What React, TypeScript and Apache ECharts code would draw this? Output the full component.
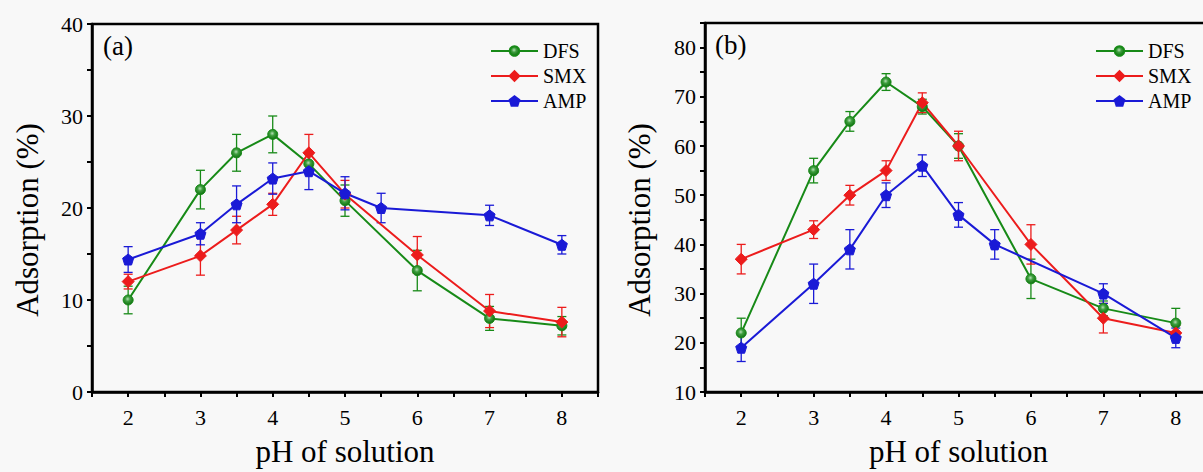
import React, { useEffect, useRef } from "react";
import * as echarts from "echarts";

// pH values sampled for each drug
const phDfsSmx = [2, 3, 3.5, 4, 4.5, 5, 6, 7, 8];
const phAmp = [2, 3, 3.5, 4, 4.5, 5, 5.5, 7, 8];

// Panel (a)
const dfsA = [10, 22, 26, 28, 24.8, 20.8, 13.2, 8, 7.2];
const dfsErrA = [1.5, 2.1, 2, 2, 1, 1.7, 2.2, 1.3, 1];
const smxA = [12, 14.8, 17.6, 20.4, 26, 21.5, 14.9, 8.8, 7.6];
const smxErrA = [0.8, 2.1, 1.5, 1.2, 2, 1.5, 2, 1.8, 1.6];
const ampA = [14.4, 17.2, 20.4, 23.2, 24, 21.6, 20, 19.2, 16];
const ampErrA = [1.4, 1.2, 2, 1.7, 2, 1.8, 1.6, 1.1, 1];

// Panel (b)
const dfsB = [22, 55, 65, 73, 68, 60, 33, 27, 24];
const dfsErrB = [3, 2.5, 2, 1.7, 1.5, 2.5, 4, 1.5, 3];
const smxB = [37, 43, 50, 55, 68.8, 60, 40, 25, 22];
const smxErrB = [3, 1.8, 2, 2, 2, 3, 4, 3, 1.5];
const ampB = [19, 32, 39, 50, 56, 46, 40, 30, 21];
const ampErrB = [2.8, 4, 4, 2.5, 2.2, 2.5, 3, 2, 2];

const names = ["DFS", "SMX", "AMP"];
const yTicksA = { min: 0, max: 40, step: 5 };
const yTicksB = { min: 10, max: 85, step: 5, lastLabel: 80 };

const FONT = "'Liberation Serif', 'Times New Roman', serif";
const GREEN = "#178a17";
const RED = "#ec1c1c";
const BLUE = "#1a1ad6";
const PENTAGON =
  "path://M50,0 L97.6,34.5 L79.4,90.5 L20.6,90.5 L2.4,34.5 Z";

// Shaded ball marker for DFS
const dfsFill = {
  type: "radial",
  x: 0.45,
  y: 0.4,
  r: 0.6,
  colorStops: [
    { offset: 0, color: "#b5dfb5" },
    { offset: 0.4, color: "#3d9e3d" },
    { offset: 1, color: "#107010" },
  ],
};

function pairs(xs: number[], ys: number[]) {
  return xs.map((x, i) => [x, ys[i]]);
}
function errs(xs: number[], ys: number[], es: number[]) {
  return xs.map((x, i) => [x, ys[i] - es[i], ys[i] + es[i]]);
}

function lineSeries(
  name: string,
  idx: number,
  xs: number[],
  ys: number[],
  color: string,
  symbol: string,
  size: number,
  fill: any
) {
  return {
    name,
    type: "line",
    xAxisIndex: idx,
    yAxisIndex: idx,
    data: pairs(xs, ys),
    symbol,
    symbolSize: size,
    showAllSymbol: true,
    z: 4,
    lineStyle: { color, width: 2 },
    itemStyle: { color: fill, borderColor: color, borderWidth: 1 },
    emphasis: { disabled: true },
  };
}

function errSeries(
  name: string,
  idx: number,
  xs: number[],
  ys: number[],
  es: number[],
  color: string
) {
  return {
    name: name + " error",
    type: "custom",
    xAxisIndex: idx,
    yAxisIndex: idx,
    data: errs(xs, ys, es),
    encode: { x: 0, y: [1, 2] },
    z: 3,
    silent: true,
    renderItem: (params: any, api: any) => {
      const x = api.value(0);
      const lo = api.coord([x, api.value(1)]);
      const hi = api.coord([x, api.value(2)]);
      const w = 4.5;
      const style = { stroke: color, lineWidth: 1.3, fill: "none" };
      return {
        type: "group",
        children: [
          { type: "line", shape: { x1: lo[0], y1: lo[1], x2: hi[0], y2: hi[1] }, style },
          { type: "line", shape: { x1: lo[0] - w, y1: lo[1], x2: lo[0] + w, y2: lo[1] }, style },
          { type: "line", shape: { x1: hi[0] - w, y1: hi[1], x2: hi[0] + w, y2: hi[1] }, style },
        ],
      };
    },
  };
}

function xAxis(idx: number) {
  return {
    type: "value",
    gridIndex: idx,
    min: 1.5,
    max: 8.5,
    interval: 0.5,
    name: "pH of solution",
    nameLocation: "middle",
    nameGap: 44,
    nameTextStyle: { fontFamily: FONT, fontSize: 31, color: "#000" },
    axisLine: { show: true, onZero: false, lineStyle: { color: "#000", width: 2.5 } },
    axisTick: { show: true, length: 5, lineStyle: { color: "#000", width: 2 } },
    axisLabel: {
      margin: 14,
      fontFamily: FONT,
      fontSize: 22,
      color: "#000",
      formatter: (v: number) => (Number.isInteger(v) && v >= 2 && v <= 8 ? String(v) : ""),
    },
    splitLine: { show: false },
  };
}

function yAxis(idx: number, t: { min: number; max: number; step: number; lastLabel?: number }) {
  const last = t.lastLabel ?? t.max;
  return {
    type: "value",
    gridIndex: idx,
    min: t.min,
    max: t.max,
    interval: t.step,
    axisLine: { show: true, lineStyle: { color: "#000", width: 2.5 } },
    axisTick: { show: true, length: 5, lineStyle: { color: "#000", width: 2 } },
    axisLabel: {
      margin: 9,
      fontFamily: FONT,
      fontSize: 22,
      color: "#000",
      formatter: (v: number) => (v % 10 === 0 && v <= last ? String(v) : ""),
    },
    splitLine: { show: false },
  };
}

function legend(left: number) {
  return {
    data: names,
    orient: "vertical",
    left,
    top: 41,
    padding: 0,
    itemWidth: 47,
    itemHeight: 12,
    itemGap: 5,
    selectedMode: false,
    textStyle: { fontFamily: FONT, fontSize: 20, color: "#000" },
  };
}

function yName(x: number, y: number) {
  return {
    type: "text",
    x,
    y,
    rotation: Math.PI / 2,
    style: {
      text: "Adsorption (%)",
      font: `31px ${FONT}`,
      fill: "#000",
      textAlign: "center",
      textVerticalAlign: "middle",
    },
  };
}

export default function App() {
  const ref = useRef<HTMLDivElement>(null);

  useEffect(() => {
    if (!ref.current) return;
    const chart = echarts.init(ref.current, undefined, { renderer: "svg" });
    const option = {
      animation: false,
      backgroundColor: "#f8f8f8",
      grid: [
        { left: 92, top: 24, width: 506, height: 374, show: true, borderColor: "#000", borderWidth: 2.5, backgroundColor: "transparent" },
        { left: 705, top: 23, width: 507, height: 373, show: true, borderColor: "#000", borderWidth: 2.5, backgroundColor: "transparent" },
      ],
      xAxis: [xAxis(0), xAxis(1)],
      yAxis: [yAxis(0, yTicksA), yAxis(1, yTicksB)],
      legend: [legend(490), legend(1095)],
      graphic: [
        yName(27, 220),
        yName(639, 220),
        { type: "text", left: 103, top: 32, style: { text: "(a)", font: `27px ${FONT}`, fill: "#000" } },
        { type: "text", left: 715, top: 31, style: { text: "(b)", font: `27px ${FONT}`, fill: "#000" } },
      ],
      series: [
        errSeries("DFS", 0, phDfsSmx, dfsA, dfsErrA, GREEN),
        errSeries("SMX", 0, phDfsSmx, smxA, smxErrA, RED),
        errSeries("AMP", 0, phAmp, ampA, ampErrA, BLUE),
        lineSeries("DFS", 0, phDfsSmx, dfsA, GREEN, "circle", 10, dfsFill),
        lineSeries("SMX", 0, phDfsSmx, smxA, RED, "diamond", 12, RED),
        lineSeries("AMP", 0, phAmp, ampA, BLUE, PENTAGON, 11, BLUE),
        errSeries("DFS", 1, phDfsSmx, dfsB, dfsErrB, GREEN),
        errSeries("SMX", 1, phDfsSmx, smxB, smxErrB, RED),
        errSeries("AMP", 1, phAmp, ampB, ampErrB, BLUE),
        lineSeries("DFS", 1, phDfsSmx, dfsB, GREEN, "circle", 10, dfsFill),
        lineSeries("SMX", 1, phDfsSmx, smxB, RED, "diamond", 12, RED),
        lineSeries("AMP", 1, phAmp, ampB, BLUE, PENTAGON, 11, BLUE),
      ],
    };
    chart.setOption(option as any);
    return () => chart.dispose();
  }, []);

  return (
    <div
      style={{
        position: "fixed",
        left: 0,
        top: 0,
        width: 1203,
        height: 472,
        overflow: "hidden",
        background: "#f8f8f8",
      }}
    >
      <div ref={ref} style={{ width: 1215, height: 472 }} />
    </div>
  );
}
